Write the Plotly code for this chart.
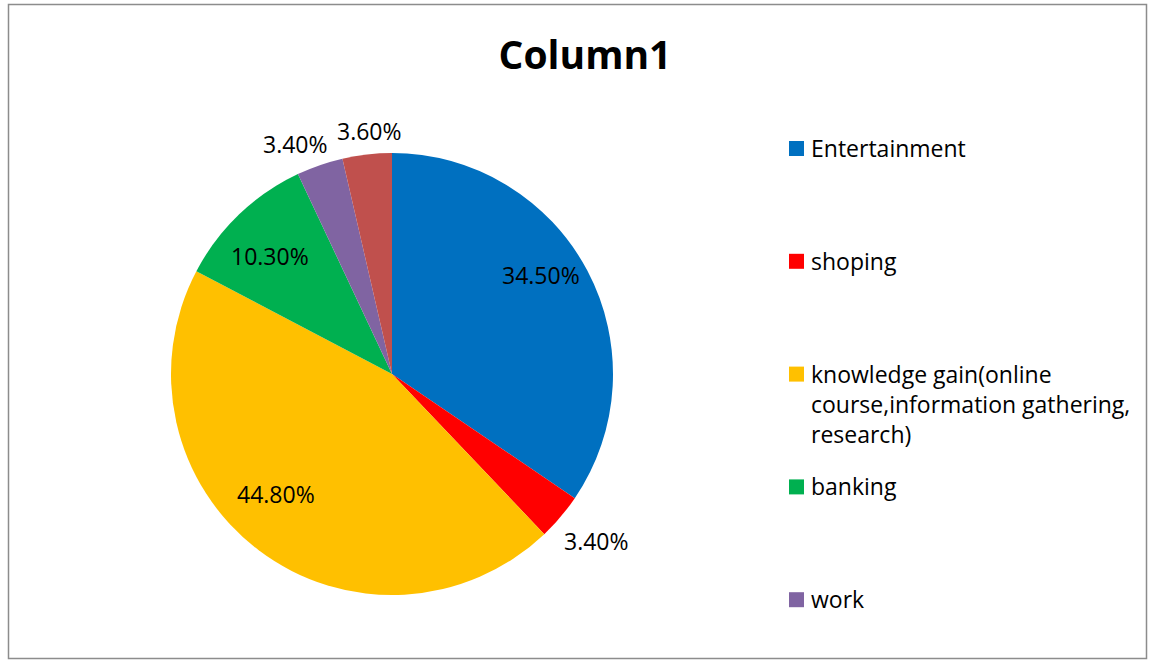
import math
import plotly.graph_objects as go

# Share of internet use by purpose (percent)
categories = [
    "Entertainment",
    "shoping",
    "knowledge gain(online course,information gathering, research)",
    "banking",
    "work",
    "other",
]
values = [34.5, 3.4, 44.8, 10.3, 3.4, 3.6]
legend_labels = [
    "Entertainment",
    "shoping",
    "knowledge gain(online<br>course,information gathering,<br>research)",
    "banking",
    "work",
]
colors = ["#0070C0", "#FF0000", "#FFC000", "#00B050", "#8064A2", "#C0504D"]

# value-label placement: radius as a fraction of the pie radius, and a small
# angular nudge (degrees) off each slice's mid-angle so labels don't collide
label_radius = [0.81, 1.195, 0.755, 0.77, 1.13, 1.105]
label_nudge = [-5.5, -1.1, 6.9, -2.2, -3.6, 1.3]

W, H = 1153, 662
FONT = "Open Sans"

# pie geometry in pixels
cx, cy, r = 392, 374, 221

fig = go.Figure()
fig.add_trace(go.Pie(
    labels=categories,
    values=values,
    sort=False,
    direction="clockwise",
    rotation=0,
    marker=dict(colors=colors, line=dict(width=0)),
    textinfo="none",
    showlegend=False,
    domain=dict(x=[(cx - r) / W, (cx + r) / W],
                y=[(H - cy - r) / H, (H - cy + r) / H]),
))

annotations = []
shapes = []

# value labels around each slice's mid-angle (clockwise from 12 o'clock)
total = sum(values)
cum = 0.0
for v, k, d in zip(values, label_radius, label_nudge):
    mid = (cum + v / 2) / total * 2 * math.pi + math.radians(d)
    cum += v
    px = cx + k * r * math.sin(mid)
    py = cy - k * r * math.cos(mid)
    annotations.append(dict(
        x=px / W, y=1 - py / H, xref="paper", yref="paper",
        xanchor="center", yanchor="middle", showarrow=False,
        text=f"{v:.2f}%",
        font=dict(family=FONT, size=23, color="#000000"),
    ))

# legend: coloured squares with labels, one evenly spaced slot per entry
leg_x, leg_top, leg_step, sq = 789, 141, 112.8, 15
for i, lab in enumerate(legend_labels):
    top = leg_top + i * leg_step
    shapes.append(dict(
        type="rect", xref="paper", yref="paper",
        x0=leg_x / W, x1=(leg_x + sq) / W,
        y0=1 - top / H, y1=1 - (top + sq) / H,
        fillcolor=colors[i], line=dict(width=0),
    ))
    annotations.append(dict(
        x=(leg_x + 20) / W, y=1 - (top - 11) / H,
        xref="paper", yref="paper", xanchor="left", yanchor="top",
        align="left", text=lab, showarrow=False,
        font=dict(family=FONT, size=23, color="#000000"),
    ))

# chart border
shapes.append(dict(
    type="rect", xref="paper", yref="paper",
    x0=8.5 / W, x1=1146.5 / W, y0=1 - 4.5 / H, y1=1 - 658.5 / H,
    line=dict(color="#8c8c8c", width=1.5), fillcolor="rgba(0,0,0,0)",
))

fig.update_layout(
    width=W, height=H,
    margin=dict(l=0, r=0, t=0, b=0),
    paper_bgcolor="#ffffff",
    plot_bgcolor="#ffffff",
    title=dict(text="<b>Column1</b>", x=585 / W, xanchor="center",
               y=1 - 55 / H, yanchor="middle",
               font=dict(family=FONT, size=39, color="#000000")),
    shapes=shapes,
    annotations=annotations,
)

fig.write_html("out.html")
